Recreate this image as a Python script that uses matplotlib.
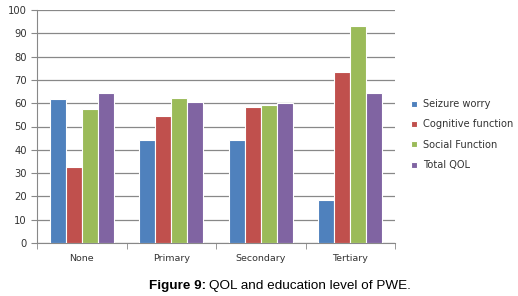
import numpy as np
import matplotlib
matplotlib.use('Agg')
import matplotlib.pyplot as plt

# data
levels = ['None', 'Primary', 'Secondary', 'Tertiary']
series = ['Seizure worry', 'Cognitive function', 'Social Function', 'Total QOL']
seizure_worry = [62, 44, 44, 18.3]
cognitive_function = [32.8, 54.3, 58.5, 73.2]
social_function = [57.4, 62.4, 59.3, 93.3]
total_qol = [64.2, 60.7, 60.2, 64.2]
colors = ['#4F81BD', '#C0504D', '#9BBB59', '#8064A2']

plt.rcParams['font.family'] = ['DejaVu Sans']

fig = plt.figure(figsize=(5.18, 2.96), dpi=100)
ax = fig.add_axes([37 / 518, 53 / 296, 358 / 518, 233 / 296])

x = np.arange(len(levels))
w = 0.18
vals = [seizure_worry, cognitive_function, social_function, total_qol]
for i, (name, v) in enumerate(zip(series, vals)):
    ax.bar(x + (i - 1.5) * w, v, width=w, color=colors[i], edgecolor='white',
           linewidth=0.8, label=name, zorder=3)

ax.set_xlim(-0.5, len(levels) - 0.5)
ax.set_ylim(0, 100)
ax.set_yticks(np.arange(0, 101, 10))
ax.yaxis.grid(True, color='#888888', linewidth=0.9, zorder=0)
ax.set_axisbelow(True)
for s in ['top', 'right']:
    ax.spines[s].set_visible(False)
for s in ['left', 'bottom']:
    ax.spines[s].set_color('#888888')
ax.set_xticks(x)
ax.set_xticklabels(levels)
ax.set_xticks(np.arange(-0.5, len(levels)), minor=True)
ax.tick_params(axis='x', which='major', length=0, labelsize=6.8, colors='#333333', pad=8)
ax.tick_params(axis='x', which='minor', length=4, color='#888888')
ax.tick_params(axis='y', length=4, color='#888888', labelsize=7.2, labelcolor='#333333')

ax.legend(loc='center left', bbox_to_anchor=(1.02, 0.465), frameon=False,
          fontsize=7.1, handlelength=0.6, handleheight=0.6, handletextpad=0.6,
          labelspacing=1.05, labelcolor='#333333')

# caption with bold prefix
cap_font = ['Liberation Sans', 'DejaVu Sans']
t1 = fig.text(149 / 518, 7 / 296, 'Figure 9:', fontsize=9.7, fontweight='bold',
              family=cap_font, va='baseline')
fig.canvas.draw()
ext = t1.get_window_extent()
fig.text(ext.x1 / fig.bbox.width + 3 / 518, 7 / 296, 'QOL and education level of PWE.',
         fontsize=9.7, family=cap_font, va='baseline')

fig.savefig('out.png', dpi=100)
